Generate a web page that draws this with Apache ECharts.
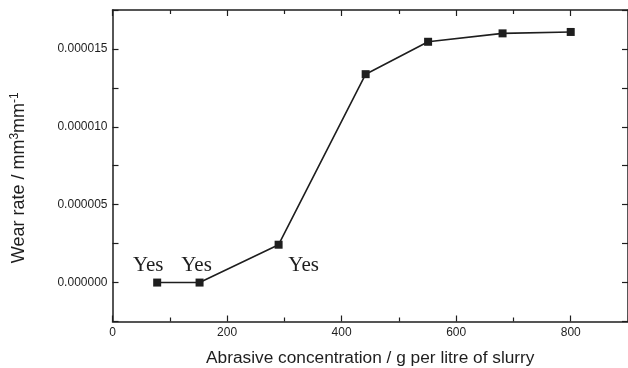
<!DOCTYPE html>
<html>
<head>
<meta charset="utf-8">
<script src="https://cdn.jsdelivr.net/npm/echarts@6/dist/echarts.min.js"></script>
<style>html,body{margin:0;padding:0;background:#fff}#c{width:628px;height:368px}</style>
</head>
<body>
<div id="c"></div>
<script>
const concentration = [78, 152, 290, 442, 551, 681, 800];
const wearRate = [0.0, 0.0, 2.43e-6, 13.38e-6, 15.46e-6, 16.0e-6, 16.09e-6];
const annotations = ['Yes', 'Yes', 'Yes', '', '', '', ''];
const xTicks = [0, 200, 400, 600, 800];
const yTicks = [0, 0.000005, 0.000010, 0.000015];

const labelOffsets = [[-9, -17], [-3, -17], [25, 21]];
const ink = '#1e1e1e';
const sans = 'Liberation Sans';
const seriesData = concentration.map((x, i) => {
  const item = { value: [x, wearRate[i]] };
  if (annotations[i]) {
    item.label = {
      show: true, formatter: annotations[i], position: 'inside',
      offset: labelOffsets[i], fontFamily: 'Liberation Serif', fontSize: 21, color: ink
    };
  }
  return item;
});

const chart = echarts.init(document.getElementById('c'));
const axisCommon = {
  axisLine: { show: true, onZero: false, lineStyle: { color: ink, width: 1.5 } },
  axisTick: { show: true, inside: true, length: 6, lineStyle: { color: ink, width: 1.2 } },
  minorTick: { show: true, splitNumber: 2, length: 4, lineStyle: { color: ink, width: 1.2 } },
  splitLine: { show: false }
};
chart.setOption({
  animation: false,
  grid: { left: 112.5, right: 0, top: 10, bottom: 46.5, containLabel: false, outerBoundsMode: 'none' },
  xAxis: [
    Object.assign({
      type: 'value', min: 0, max: 900, interval: 200,
      axisLabel: {
        fontFamily: sans, fontSize: 12, color: ink, margin: 5,
        formatter: v => xTicks.includes(v) ? String(v) : ''
      },
      name: 'Abrasive concentration / g per litre of slurry',
      nameLocation: 'middle', nameGap: 28,
      nameTextStyle: { fontFamily: sans, fontSize: 17.3, color: ink }
    }, axisCommon),
    Object.assign({
      type: 'value', min: 0, max: 900, interval: 200, position: 'top',
      axisLabel: { show: false }
    }, axisCommon)
  ],
  yAxis: [
    Object.assign({
      type: 'value', min: -0.0000025, max: 0.0000175, interval: 0.0000025,
      axisLabel: {
        fontFamily: sans, fontSize: 12, color: ink, margin: 5,
        formatter: v => {
          const hit = yTicks.find(t => Math.abs(t - v) < 1e-12);
          return hit === undefined ? '' : hit.toFixed(6);
        }
      },
      name: '{n|Wear rate / mm}{s|3}{n|mm}{s|-1}',
      nameLocation: 'middle', nameGap: 82,
      nameTextStyle: {
        color: ink,
        padding: [0, 24, 0, 0],
        rich: {
          n: { fontFamily: sans, fontSize: 18, color: ink },
          s: { fontFamily: sans, fontSize: 12, color: ink, padding: [0, 0, 10, 0] }
        }
      }
    }, axisCommon, { minorTick: { show: false } }),
    Object.assign({
      type: 'value', min: -0.0000025, max: 0.0000175, interval: 0.0000025, position: 'right',
      axisLabel: { show: false }
    }, axisCommon, { minorTick: { show: false } })
  ],
  series: [{
    type: 'line',
    data: seriesData,
    symbol: 'rect', symbolSize: 8,
    itemStyle: { color: ink },
    lineStyle: { color: ink, width: 1.6 },
    label: { show: false }
  }]
});
</script>
</body>
</html>
